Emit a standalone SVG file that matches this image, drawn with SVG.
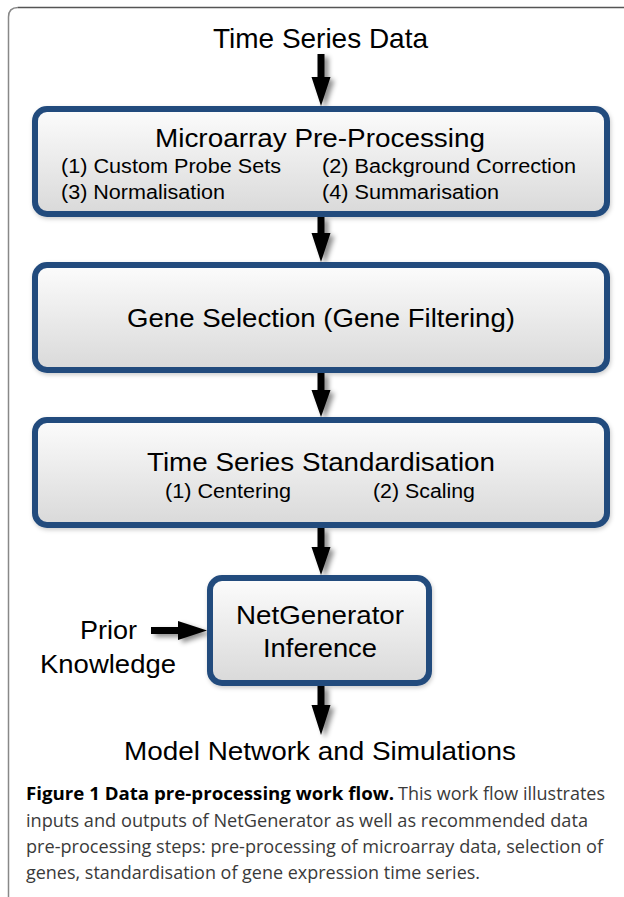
<svg xmlns="http://www.w3.org/2000/svg" width="624" height="897" viewBox="0 0 624 897">
<style>
.lbl{font-family:"Liberation Sans",Arial,sans-serif;fill:#000}
.t28{font-size:28px}
.t26{font-size:26px}
.t20{font-size:20px}
.box{fill:url(#g);stroke:#234b7d;stroke-width:6}
.arr{fill:#000}
.cap{font-family:"Open Sans","Noto Sans",sans-serif;font-size:18.5px;fill:#3a3a3a}
.capb{font-family:"Open Sans","Noto Sans",sans-serif;font-size:18.5px;font-weight:bold;fill:#000}
</style>
<defs>
<linearGradient id="g" x1="0" y1="0" x2="0" y2="1">
<stop offset="0" stop-color="#fcfcfc"/>
<stop offset="1" stop-color="#d9d9d9"/>
</linearGradient>
<filter id="sh" x="-30%" y="-30%" width="180%" height="180%">
<feDropShadow dx="4" dy="3" stdDeviation="2.5" flood-color="#000" flood-opacity="0.45"/>
</filter>
<filter id="bsh" x="-10%" y="-10%" width="120%" height="130%">
<feDropShadow dx="1" dy="2" stdDeviation="2" flood-color="#000" flood-opacity="0.2"/>
</filter>
</defs>
<rect width="624" height="897" fill="#fff"/>
<g id="frame" fill="none" stroke-width="1.5">
<path d="M8.5 897 V17 Q8.5 7.5 18 7.5" stroke="#888"/>
<path d="M18 7.5 H624" stroke="#555"/>
</g>
<g id="connectors">
<polygon class="arr" filter="url(#sh)" points="317.5,54 324.5,54 324.5,77 330.5,77 321,106 311.5,77 317.5,77"/>
<polygon class="arr" filter="url(#sh)" points="317.5,217 324.5,217 324.5,233 330.5,233 321,262 311.5,233 317.5,233"/>
<polygon class="arr" filter="url(#sh)" points="317.5,373 324.5,373 324.5,390 330.5,390 321,417 311.5,390 317.5,390"/>
<polygon class="arr" filter="url(#sh)" points="317.5,528 324.5,528 324.5,547 330.5,547 321,575 311.5,547 317.5,547"/>
<polygon class="arr" filter="url(#sh)" points="317.5,686 324.5,686 324.5,705 330.5,705 321,735 311.5,705 317.5,705"/>
<polygon class="arr" filter="url(#sh)" points="151,627 178,627 178,621 207,630.5 178,640 178,634 151,634"/>
</g>
<g id="input">
<text class="lbl t28" x="213" y="48" textLength="215" lengthAdjust="spacingAndGlyphs">Time Series Data</text>
</g>
<g id="microarray">
<rect class="box" filter="url(#bsh)" x="35" y="109" width="572" height="105" rx="12"/>
<text class="lbl t26" x="155" y="146.5" textLength="330" lengthAdjust="spacingAndGlyphs">Microarray Pre-Processing</text>
<text class="lbl t20" x="61" y="173" textLength="220" lengthAdjust="spacingAndGlyphs">(1) Custom Probe Sets</text>
<text class="lbl t20" x="322" y="173" textLength="254" lengthAdjust="spacingAndGlyphs">(2) Background Correction</text>
<text class="lbl t20" x="61" y="199" textLength="164" lengthAdjust="spacingAndGlyphs">(3) Normalisation</text>
<text class="lbl t20" x="322" y="199" textLength="177" lengthAdjust="spacingAndGlyphs">(4) Summarisation</text>
</g>
<g id="gene-selection">
<rect class="box" filter="url(#bsh)" x="35" y="265" width="572" height="105" rx="12"/>
<text class="lbl t26" x="127" y="327" textLength="388" lengthAdjust="spacingAndGlyphs">Gene Selection (Gene Filtering)</text>
</g>
<g id="standardisation">
<rect class="box" filter="url(#bsh)" x="35" y="420" width="572" height="105" rx="12"/>
<text class="lbl t26" x="147" y="471" textLength="348" lengthAdjust="spacingAndGlyphs">Time Series Standardisation</text>
<text class="lbl t20" x="165" y="497.5" textLength="126" lengthAdjust="spacingAndGlyphs">(1) Centering</text>
<text class="lbl t20" x="373" y="497.5" textLength="102" lengthAdjust="spacingAndGlyphs">(2) Scaling</text>
</g>
<g id="netgenerator">
<rect class="box" filter="url(#bsh)" x="210" y="578" width="219" height="105" rx="12"/>
<text class="lbl t26" x="236" y="624" textLength="168" lengthAdjust="spacingAndGlyphs">NetGenerator</text>
<text class="lbl t26" x="263" y="657" textLength="114" lengthAdjust="spacingAndGlyphs">Inference</text>
</g>
<g id="prior">
<text class="lbl t26" x="80" y="639" textLength="57" lengthAdjust="spacingAndGlyphs">Prior</text>
<text class="lbl t26" x="40" y="673" textLength="136" lengthAdjust="spacingAndGlyphs">Knowledge</text>
</g>
<g id="output">
<text class="lbl t26" x="124" y="760" textLength="392" lengthAdjust="spacingAndGlyphs">Model Network and Simulations</text>
</g>
<g id="caption">
<text class="capb" x="26" y="800" textLength="368" lengthAdjust="spacingAndGlyphs">Figure 1 Data pre-processing work flow.</text>
<text class="cap" x="398" y="800" textLength="207" lengthAdjust="spacingAndGlyphs">This work flow illustrates</text>
<text class="cap" x="26" y="826.5" textLength="562" lengthAdjust="spacingAndGlyphs">inputs and outputs of NetGenerator as well as recommended data</text>
<text class="cap" x="26" y="853" textLength="577" lengthAdjust="spacingAndGlyphs">pre-processing steps: pre-processing of microarray data, selection of</text>
<text class="cap" x="26" y="879" textLength="454" lengthAdjust="spacingAndGlyphs">genes, standardisation of gene expression time series.</text>
</g>
</svg>
